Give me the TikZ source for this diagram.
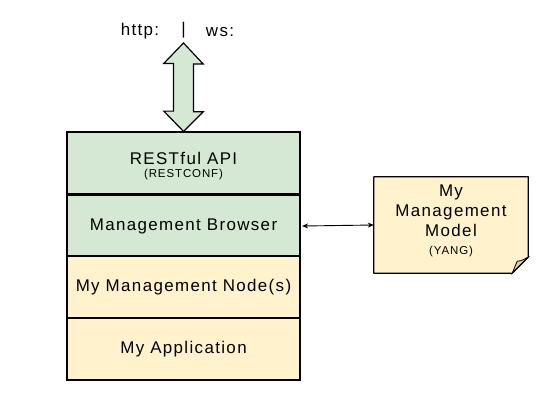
\documentclass[tikz,border=0pt]{standalone}
\usepackage{fontspec}
\setmainfont{Liberation Sans}[LetterSpace=8]
\usetikzlibrary{arrows.meta,calc}
\definecolor{boxgreen}{HTML}{D5E8D4}
\definecolor{boxyellow}{HTML}{FFF2CC}
\definecolor{foldcol}{HTML}{D8CFB0}
\begin{document}
\begin{tikzpicture}[x=1bp,y=-1bp,
  layer/.style={draw=black,line width=1.2bp,minimum width=233bp,minimum height=62bp,inner sep=0pt,align=center,font=\fontsize{17}{19}\selectfont},
  small/.style={font=\fontsize{11.5}{13}\selectfont},
  lbl/.style={inner sep=0pt,font=\fontsize{17}{20}\selectfont},
  link/.style={line width=0.9bp,{Stealth[length=6bp,width=5bp]}-{Stealth[length=6bp,width=5bp]}}]
\useasboundingbox (0,0) rectangle (551,403);
% stack
\node[layer,fill=boxgreen] (rest) at (183.5,163) {};
\node[lbl] (resttxt) at (183.5,158) {RESTful API};
\node[lbl,small] (restsub) at (183.5,175) {(RESTCONF)};
\node[layer,fill=boxgreen] (browser) at (183.5,226) {Management Browser};
\node[layer,fill=boxyellow] (mnode) at (183.5,287) {My Management Node(s)};
\node[layer,fill=boxyellow] (app) at (183.5,349) {My Application};
% note
\node[minimum width=154bp,minimum height=96bp,inner sep=0pt] (model) at (451,225) {};
\fill[boxyellow] (model.north west) -- (model.north east) -- ($(model.south east)+(0,-16)$) -- ($(model.south east)+(-16,0)$) -- (model.south west) -- cycle;
\fill[foldcol,draw=black,line width=0.8bp] ($(model.south east)+(0,-16)$) .. controls ($(model.south east)+(-8,-12)$) .. ($(model.south east)+(-11,-12)$) -- ($(model.south east)+(-16,0)$) -- cycle;
\draw[line width=1.2bp,line join=round] (model.north west) -- (model.north east) -- ($(model.south east)+(0,-16)$) -- ($(model.south east)+(-16,0)$) -- (model.south west) -- cycle;
\node[lbl,align=center] (modeltxt) at (451,221) {My\\Management\\Model\\[-2bp]{\fontsize{11.5}{13}\selectfont (YANG)}};
% link
\draw[link] (browser.east) ++(1.5,0) coordinate (lk) -- (model.west);
% double arrow
\coordinate (tip) at (183.5,43);
\draw[fill=boxgreen,line width=1.2bp,line join=miter]
  (tip) -- ++(19.7,21) -- ++(-9.7,0) -- ++(0,47.7) -- ++(9.7,0) -- (rest.north)
  -- ++(-19.7,-20.3) -- ++(9.7,0) -- ++(0,-47.7) -- ++(-9.7,0) -- cycle;
% top labels
\node[lbl] (http) at (140,31) {http:};
\node[lbl] (sep) at (183.5,30) {|};
\node[lbl] (ws) at (220,32) {ws:};
\end{tikzpicture}
\end{document}
